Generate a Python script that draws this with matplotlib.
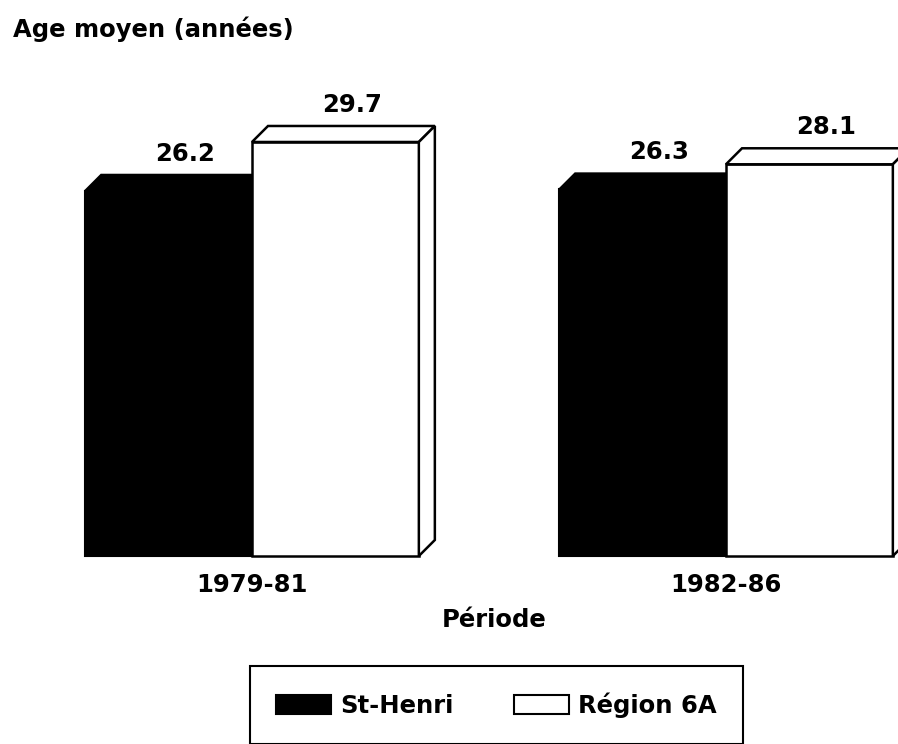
import numpy as np
import matplotlib.pyplot as plt
from matplotlib.patches import Polygon, Patch

periodes = ['1979-81', '1982-86']
series = ['St-Henri', 'Région 6A']
st_henri = [26.2, 26.3]
region_6a = [29.7, 28.1]

plt.rcParams['font.family'] = ['DejaVu Sans']
plt.rcParams['font.weight'] = 'bold'
fs = 17.5

fig = plt.figure(figsize=(8.98, 7.44), dpi=100)
ax = fig.add_axes([0, 188 / 744, 1, 556 / 744])
ax.set_xlim(-252 / 474, (898 - 252) / 474)
ax.set_ylim(0, 556 / 13.94)

w = 0.352
dx = 16 / 474      # depth of the 3d effect, in data units
dy = 16 / 13.94

x = np.arange(len(periodes))

# black bars (St-Henri) : front + top face
ax.bar(x - w / 2, st_henri, w, color='black', edgecolor='black', lw=1.5,
       zorder=2, clip_on=False)
for xi, h in zip(x - w, st_henri):
    ax.add_patch(Polygon([(xi, h), (xi + w, h), (xi + w + dx, h + dy), (xi + dx, h + dy)],
                         closed=True, fc='black', ec='black', lw=1.5, zorder=2, clip_on=False))

# white bars (Region 6A) : front + top + side
ax.bar(x + w / 2, region_6a, w, color='white', edgecolor='black', lw=1.8,
       zorder=3, clip_on=False)
for xi, h in zip(x, region_6a):
    ax.add_patch(Polygon([(xi, h), (xi + w, h), (xi + w + dx, h + dy), (xi + dx, h + dy)],
                         closed=True, fc='white', ec='black', lw=1.8, zorder=3, clip_on=False))
    ax.add_patch(Polygon([(xi + w, 0), (xi + w, h), (xi + w + dx, h + dy), (xi + w + dx, dy)],
                         closed=True, fc='white', ec='black', lw=1.8, zorder=3, clip_on=False))

# value labels
for xs, vals in ((x - w / 2, st_henri), (x + w / 2, region_6a)):
    for xi, v in zip(xs, vals):
        ax.annotate(f'{v}', (xi + dx * 1.05, v + dy), xytext=(0, 10), textcoords='offset points',
                    ha='center', va='baseline', fontsize=fs, fontweight='bold')

ax.set_xticks(x, periodes)
ax.tick_params(axis='x', length=0, pad=12, labelsize=fs)
ax.set_yticks([])
ax.set_xlabel('Période', fontsize=fs, fontweight='bold', labelpad=8, x=494 / 898)
for s in ax.spines.values():
    s.set_visible(False)

fig.text(13 / 898, 1 - 29 / 744, 'Age moyen (années)', ha='left', va='center',
         fontsize=fs, fontweight='bold')

handles = [Patch(fc='black', ec='black', lw=1.5), Patch(fc='white', ec='black', lw=1.5)]
leg = fig.legend(handles, series, ncol=2, loc='upper center',
                 bbox_to_anchor=(496.5 / 898, 1 - 666 / 744),
                 fontsize=fs, frameon=True, fancybox=False, framealpha=1,
                 edgecolor='black', borderpad=1.07, handlelength=2.26,
                 handleheight=0.82, handletextpad=0.37, columnspacing=2.5,
                 borderaxespad=0)
leg.get_frame().set_linewidth(1.5)

fig.savefig('out.png', dpi=100)
